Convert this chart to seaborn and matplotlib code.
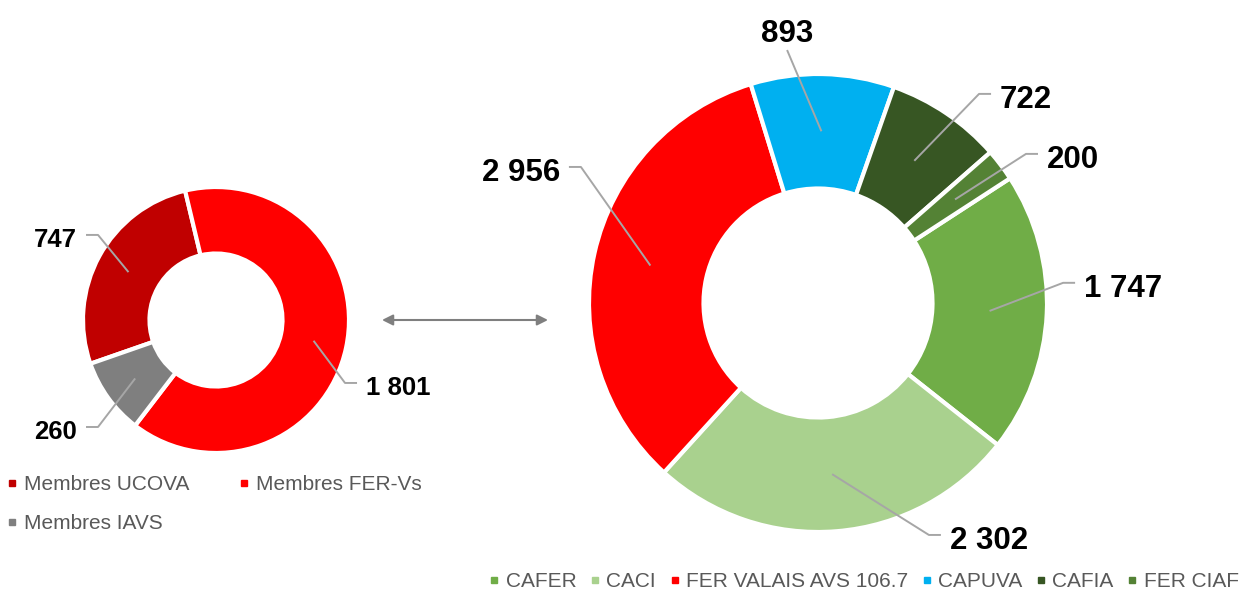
import numpy as np
import seaborn as sns
import matplotlib.pyplot as plt
from matplotlib.lines import Line2D

W, H, DPI = 1254, 593, 100

# --- dados ---
left_labels = ["Membres UCOVA", "Membres FER-Vs", "Membres IAVS"]
left_values = [747, 1801, 260]
left_colors = ["#C00000", "#FF0000", "#7F7F7F"]

right_labels = ["CAFER", "CACI", "FER VALAIS AVS 106.7", "CAPUVA", "CAFIA", "FER CIAF"]
right_values = [1747, 2302, 2956, 893, 722, 200]
right_colors = ["#70AD47", "#A9D18E", "#FF0000", "#00B0F0", "#375623", "#548235"]

# layout: position of value labels in units of the donut radius
left_label_pos = [(-1.045, 0.617, "right"), (1.128, -0.496, "left"), (-1.045, -0.827, "right")]
right_label_pos = [(1.162, 0.075, "left"), (0.576, -1.026, "left"), (-1.127, 0.581, "right"),
                   (-0.135, 1.192, "center"), (0.795, 0.90, "left"), (1.0, 0.638, "left")]

sns.set_theme(style="white")
plt.rcParams['font.family'] = ['Liberation Sans', 'DejaVu Sans']

fig = plt.figure(figsize=(W / DPI, H / DPI), dpi=DPI, facecolor="white")

# overlay for the double arrow between the two donuts
overlay = fig.add_axes([0, 0, 1, 1])
overlay.set_xlim(0, W)
overlay.set_ylim(H, 0)
overlay.axis('off')
overlay.annotate('', xy=(548, 320), xytext=(382, 320),
                 arrowprops=dict(arrowstyle='<|-|>', color='#7F7F7F', lw=1.5,
                                 mutation_scale=16, shrinkA=0, shrinkB=0))


def make_ax(cx, cy, R, hw, hh):
    """Axes where 1 data unit = R pixels, centred on (cx, cy) in image pixels."""
    left = (cx - hw * R) / W
    bottom = (H - cy - hh * R) / H
    ax = fig.add_axes([left, bottom, 2 * hw * R / W, 2 * hh * R / H])
    ax.axis('off')
    return ax


def fmt(v):
    return f"{v:,}".replace(",", " ")


def donut(ax, values, colors, startangle, label_pos, R, fontsize):
    wedges, _ = ax.pie(values, colors=colors, startangle=startangle, counterclock=False,
                       radius=1, wedgeprops=dict(width=0.5, edgecolor='white', linewidth=3))
    gap, seg = 9 / R, 12 / R
    for w, v, (lx, ly, ha) in zip(wedges, values, label_pos):
        mid = np.deg2rad((w.theta1 + w.theta2) / 2)
        x0, y0 = 0.75 * np.cos(mid), 0.75 * np.sin(mid)
        if ha == "center":
            xs, ys = [x0, lx], [y0, ly - 20 / R]
        else:
            s = 1 if ha == "left" else -1
            ex = lx - s * gap
            xs, ys = [x0, ex - s * seg, ex], [y0, ly + 3 / R, ly + 3 / R]
        ax.plot(xs, ys, color='#A6A6A6', lw=1.4, solid_capstyle='butt', zorder=3)
        ax.text(lx, ly, fmt(v), ha=ha, va='center_baseline', fontsize=fontsize,
                fontweight='bold', color='black', zorder=4)
    return wedges


ax_l = make_ax(216, 320, 133, 1.7, 1.5)
donut(ax_l, left_values, left_colors, 199.2, left_label_pos, 133, 18.5)
ax_l.set_xlim(-1.7, 1.7)
ax_l.set_ylim(-1.5, 1.5)

ax_r = make_ax(818, 303, 229, 1.6, 1.3)
donut(ax_r, right_values, right_colors, 33, right_label_pos, 229, 22.5)
ax_r.set_xlim(-1.6, 1.6)
ax_r.set_ylim(-1.3, 1.3)


def handles(colors):
    return [Line2D([], [], marker='s', linestyle='', color=c, markersize=4.5) for c in colors]


leg_kw = dict(frameon=False, fontsize=15, handlelength=0.5, handletextpad=0.3,
              borderaxespad=0, borderpad=0, labelcolor='#595959')

# legend fills column by column, so reorder to get UCOVA, FER-Vs on row 1
order = [0, 2, 1]
fig.legend([handles(left_colors)[i] for i in order], [left_labels[i] for i in order],
           loc='upper left', bbox_to_anchor=(7 / W, 1 - 475 / H), ncol=2,
           columnspacing=2.4, labelspacing=0.95, **leg_kw)

fig.legend(handles(right_colors), right_labels, loc='upper left',
           bbox_to_anchor=(489 / W, 1 - 572 / H), ncol=6, columnspacing=0.64, **leg_kw)

fig.savefig('out.png', dpi=DPI, facecolor='white')
